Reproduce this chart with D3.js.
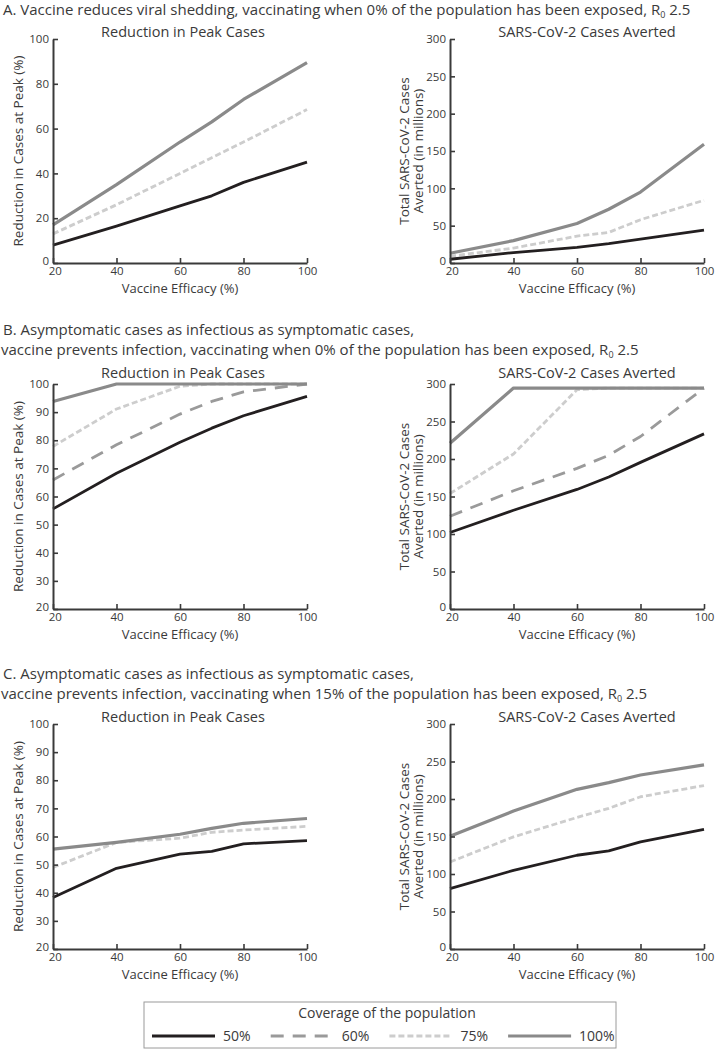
<!DOCTYPE html>
<html>
<head>
<meta charset="utf-8">
<script src="https://cdn.jsdelivr.net/npm/d3@7"></script>
<style>
  body { margin: 0; background: #fff; }
  text { font-family: "Open Sans", sans-serif; fill: #3a3a3a; }
</style>
</head>
<body>
<div id="chart"></div>
<script>
var width = 715, height = 1049;

// x values (vaccine efficacy, %)
var efficacy = [20, 40, 60, 70, 80, 100];
var coverage = ['50%', '60%', '75%', '100%'];

// A. reduction in peak cases (%)
var aPeak50  = [8, 16.5, 25.5, 30, 36, 45];
var aPeak75  = [13, 26, 40, 47, 54, 68.5];
var aPeak100 = [17, 35, 54, 63, 73, 89.5];
// A. cases averted (millions)
var aAvert50  = [5, 14, 21, 26, 32, 44];
var aAvert75  = [9, 20, 36, 41, 58, 84];
var aAvert100 = [13, 30, 53, 72, 95, 159];

// B. reduction in peak cases (%)
var bPeak50  = [55.6, 68.3, 79.3, 84.3, 88.7, 95.6];
var bPeak60  = [65.9, 78.4, 89.3, 93.8, 97.2, 100];
var bPeak75  = [77.8, 91.1, 99.2, 100, 100, 100];
var bPeak100 = [93.8, 100, 100, 100, 100, 100];
// B. cases averted (millions)
var bAvert50  = [102, 131.7, 159.4, 176, 195.5, 233.5];
var bAvert60  = [123.7, 157.6, 187.5, 205, 230, 294.6];
var bAvert75  = [154, 206.7, 292.4, 294.6, 294.6, 294.6];
var bAvert100 = [221, 294.6, 294.6, 294.6, 294.6, 294.6];

// C. reduction in peak cases (%)
var cPeak50  = [38.3, 48.7, 53.7, 54.7, 57.4, 58.5];
var cPeak75  = [49, 57.9, 59.4, 61.5, 62.3, 63.6];
var cPeak100 = [55.5, 57.9, 60.8, 62.9, 64.7, 66.4];
// C. cases averted (millions)
var cAvert50  = [80.4, 104.9, 125, 130.8, 142.9, 159.4];
var cAvert75  = [116, 149.5, 175.4, 187.5, 203, 217.9];
var cAvert100 = [150.4, 183.9, 212.9, 221.9, 232, 245.5];

var xTicks = [20, 40, 60, 80, 100];
var peakTicksA = [0, 20, 40, 60, 80, 100];
var peakTicksBC = [20, 30, 40, 50, 60, 70, 80, 90, 100];
var avertTicks = [0, 50, 100, 150, 200, 250, 300];

var styles = {
  '50%':  {color: '#231f20', width: 2.8, dash: null},
  '60%':  {color: '#9a9a9a', width: 2.8, dash: '13,9'},
  '75%':  {color: '#cdcdcd', width: 2.8, dash: '6,3'},
  '100%': {color: '#8a8a8a', width: 3.2, dash: null}
};

var panels = [
  {
    title: ['A. Vaccine reduces viral shedding, vaccinating when 0% of the population has been exposed, R'],
    titleY: 15, subY: 37, top: 39, bottom: 263,
    peakDomain: [0, 100], peakTicks: peakTicksA,
    peak: {'50%': aPeak50, '75%': aPeak75, '100%': aPeak100},
    avert: {'50%': aAvert50, '75%': aAvert75, '100%': aAvert100}
  },
  {
    title: ['B. Asymptomatic cases as infectious as symptomatic cases,',
            'vaccine prevents infection, vaccinating when 0% of the population has been exposed, R'],
    titleY: 335, subY: 378, top: 384, bottom: 609,
    peakDomain: [20, 100], peakTicks: peakTicksBC,
    peak: {'50%': bPeak50, '60%': bPeak60, '75%': bPeak75, '100%': bPeak100},
    avert: {'50%': bAvert50, '60%': bAvert60, '75%': bAvert75, '100%': bAvert100}
  },
  {
    title: ['C. Asymptomatic cases as infectious as symptomatic cases,',
            'vaccine prevents infection, vaccinating when 15% of the population has been exposed, R'],
    titleY: 679, subY: 722, top: 724, bottom: 949,
    peakDomain: [20, 100], peakTicks: peakTicksBC,
    peak: {'50%': cPeak50, '75%': cPeak75, '100%': cPeak100},
    avert: {'50%': cAvert50, '75%': cAvert75, '100%': cAvert100}
  }
];

var svg = d3.select('#chart').append('svg')
            .attr('width', width).attr('height', height);

var drawChart = function(g, opt){
  var x = d3.scaleLinear().domain([20, 100]).range([opt.left, opt.right]);
  var y = d3.scaleLinear().domain(opt.domain).range([opt.bottom, opt.top]);

  var line = d3.line()
      .x(function(d, i){ return x(efficacy[i]); })
      .y(function(d){ return y(d); });

  // lines, drawn so the darker series sit on top
  ['75%', '60%', '100%', '50%'].forEach(function(c){
    if(!opt.series[c]) return;
    var s = styles[c];
    g.append('path')
      .datum(opt.series[c])
      .attr('d', line)
      .attr('fill', 'none')
      .attr('stroke', s.color)
      .attr('stroke-width', s.width)
      .attr('stroke-dasharray', s.dash)
      .attr('stroke-linejoin', 'round');
  });

  var xAxis = g.append('g')
      .attr('transform', 'translate(0,' + opt.bottom + ')')
      .call(d3.axisBottom(x).tickValues(xTicks).tickSize(-5).tickSizeOuter(0).tickPadding(4));
  var yAxis = g.append('g')
      .attr('transform', 'translate(' + opt.left + ',0)')
      .call(d3.axisLeft(y).tickValues(opt.ticks).tickSize(-5).tickSizeOuter(0).tickPadding(4));

  [xAxis, yAxis].forEach(function(a){
    a.select('.domain').attr('stroke', '#3a3a3a').attr('stroke-width', 2);
    a.selectAll('.tick line').attr('stroke', '#3a3a3a').attr('stroke-width', 1.6);
    a.selectAll('.tick text')
      .style('font-family', '"Open Sans", sans-serif')
      .style('font-size', '11.5px')
      .attr('fill', '#555');
  });
  // bottom-left y label sits a little up
  yAxis.selectAll('.tick text').filter(function(d){ return d === opt.domain[0]; })
      .attr('dy', '0.1em');
  xAxis.selectAll('.tick text').filter(function(d){ return d === 20; })
      .attr('dx', '0.15em');

  g.append('text')
    .attr('x', (opt.left + opt.right) / 2).attr('y', opt.bottom + 30)
    .attr('text-anchor', 'middle').style('font-size', '13px')
    .text('Vaccine Efficacy (%)');

  g.append('text')
    .attr('x', opt.titleX).attr('y', opt.subY)
    .attr('text-anchor', 'middle').style('font-size', '14.5px')
    .text(opt.title);

  var midY = (opt.top + opt.bottom) / 2;
  opt.yLabel.forEach(function(t, i){
    var lx = opt.yLabelX + i * 14;
    g.append('text')
      .attr('transform', 'translate(' + lx + ',' + midY + ') rotate(-90)')
      .attr('text-anchor', 'middle').style('font-size', '13.5px')
      .text(t);
  });
};

panels.forEach(function(p){
  var g = svg.append('g');

  p.title.forEach(function(t, i){
    var tx = g.append('text')
      .attr('x', i === 0 ? 3 : 1).attr('y', p.titleY + i * 20)
      .style('font-size', '15px').attr('fill', '#333')
      .text(t);
    if(i === p.title.length - 1){
      tx.append('tspan').attr('dy', 3).style('font-size', '9px').text('0');
      tx.append('tspan').attr('dy', -3).text(' 2.5');
    }
  });

  drawChart(g, {
    left: 53, right: 307, top: p.top, bottom: p.bottom, subY: p.subY,
    domain: p.peakDomain, ticks: p.peakTicks, series: p.peak,
    title: 'Reduction in Peak Cases', titleX: 183,
    yLabel: ['Reduction in Cases at Peak (%)'], yLabelX: 23
  });
  drawChart(g, {
    left: 450, right: 704, top: p.top, bottom: p.bottom, subY: p.subY,
    domain: [0, 300], ticks: avertTicks, series: p.avert,
    title: 'SARS-CoV-2 Cases Averted', titleX: 587,
    yLabel: ['Total SARS-CoV-2 Cases', 'Averted (in millions)'], yLabelX: 409
  });
});

// legend
var legend = svg.append('g');
legend.append('rect')
  .attr('x', 144).attr('y', 1002).attr('width', 472).attr('height', 46)
  .attr('fill', 'none').attr('stroke', '#9a9a9a').attr('stroke-width', 1);
legend.append('text')
  .attr('x', 387).attr('y', 1018).attr('text-anchor', 'middle')
  .style('font-size', '14px')
  .text('Coverage of the population');

var items = legend.selectAll('g.item').data(coverage).enter().append('g')
  .attr('class', 'item')
  .attr('transform', function(d, i){ return 'translate(' + (152 + i * 118.7) + ',1036)'; });
items.append('line')
  .attr('x1', 0).attr('x2', 63).attr('y1', 0).attr('y2', 0)
  .attr('stroke', function(d){ return styles[d].color; })
  .attr('stroke-width', function(d){ return styles[d].width; })
  .attr('stroke-dasharray', function(d){ return styles[d].dash; });
items.append('text')
  .attr('x', 71).attr('y', 5)
  .style('font-size', '14px')
  .text(function(d){ return d; });
</script>
</body>
</html>
